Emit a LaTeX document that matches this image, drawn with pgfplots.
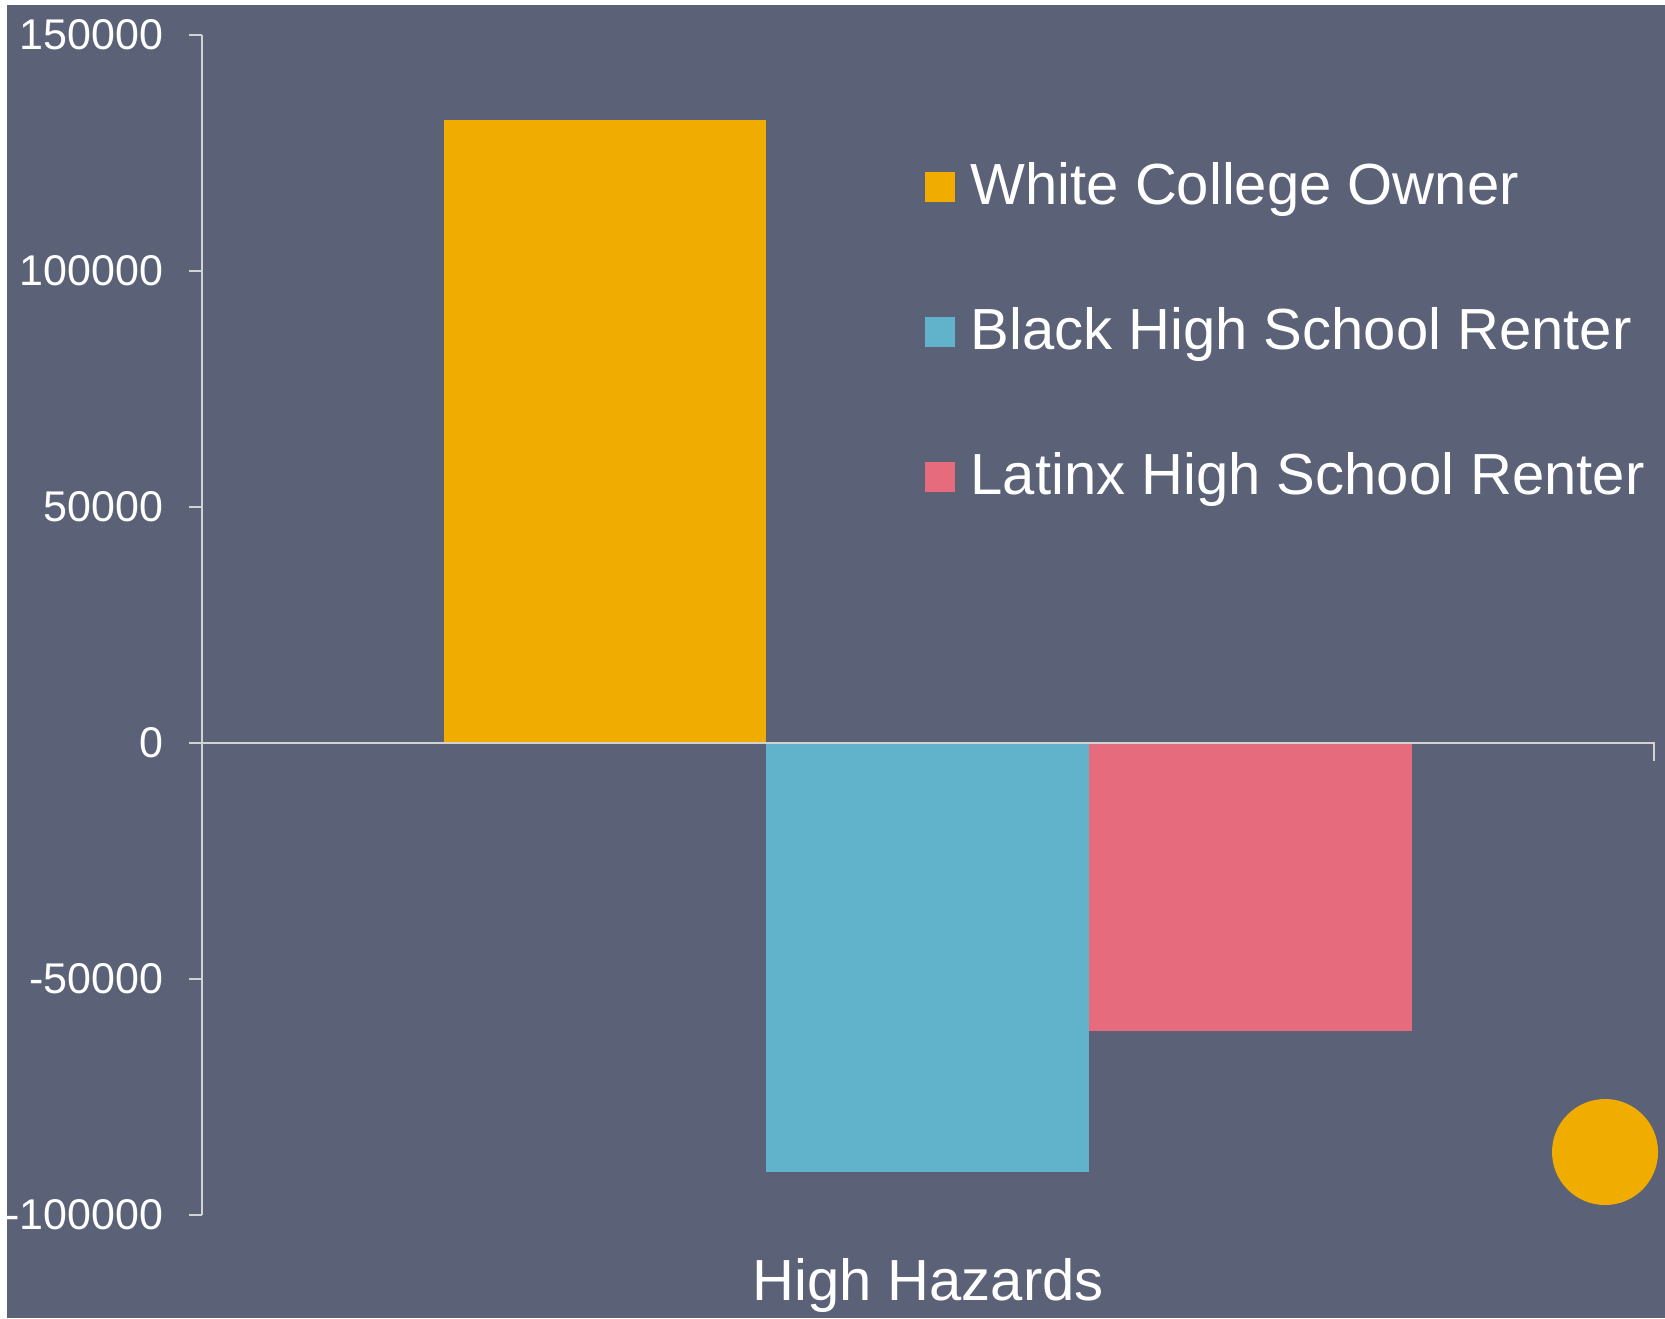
\documentclass[border=0pt]{standalone}
\usepackage{pgfplots}
\pgfplotsset{compat=1.18}
\usepackage{fontspec}
\setmainfont{Liberation Sans}

\definecolor{bgslate}{HTML}{5B6277}
\definecolor{axisgray}{HTML}{D2D2D2}
\definecolor{cyellow}{HTML}{F0AD00}
\definecolor{cblue}{HTML}{61B3CC}
\definecolor{cpink}{HTML}{E66C7D}

\begin{document}
\begin{tikzpicture}
% page and panel background (1 unit = 0.3pt, y grows downward)
\begin{scope}[x=0.3pt,y=-0.3pt]
  \fill[white] (0,0) rectangle (1665,1318);
  \fill[bgslate] (7,5) rectangle (1665,1318);
\end{scope}

\begin{axis}[
  at={(60.51pt,-364.41pt)}, anchor=south west,
  scale only axis, width=435.69pt, height=354pt,
  xmin=-2.25, xmax=2.25,
  ymin=-100000, ymax=150000,
  axis x line=none,
  axis y line=left,
  y axis line style={-, draw=axisgray, line width=0.7pt},
  ytick={-100000,-50000,0,50000,100000,150000},
  yticklabels={-100000,-50000,0,50000,100000,150000},
  tick align=outside,
  major tick length=3.9pt,
  tick style={draw=axisgray, line width=0.7pt},
  yticklabel style={font=\fontsize{12.9}{14}\selectfont, text=white, inner sep=0pt, xshift=-7.4pt},
  clip=false,
]
\addplot[ybar, bar width=1, bar shift=0, fill=cyellow, draw=none] coordinates {(-1,132000)};
\addplot[ybar, bar width=1, bar shift=0, fill=cblue, draw=none] coordinates {(0,-91000)};
\addplot[ybar, bar width=1, bar shift=0, fill=cpink, draw=none] coordinates {(1,-61000)};
% baseline at zero with the end tick
\draw[axisgray, line width=0.7pt] (axis cs:-2.25,0) -- (axis cs:2.25,0) -- ([yshift=-5.4pt]axis cs:2.25,0);
\end{axis}

\begin{scope}[x=0.3pt,y=-0.3pt]
  % category label
  \node[anchor=base, inner sep=0pt, text=white, font=\fontsize{17.4}{20}\selectfont] at (928,1300) {High Hazards};
  % legend
  \fill[cyellow] (924.5,172.5) rectangle (954.5,202.5);
  \node[anchor=base west, inner sep=0pt, text=white, font=\fontsize{17.4}{20}\selectfont] at (970,205) {White College Owner};
  \fill[cblue] (924.5,317) rectangle (954.5,347);
  \node[anchor=base west, inner sep=0pt, text=white, font=\fontsize{17.4}{20}\selectfont] at (970,349.5) {Black High School Renter};
  \fill[cpink] (924.5,461.5) rectangle (954.5,491.5);
  \node[anchor=base west, inner sep=0pt, text=white, font=\fontsize{17.4}{20}\selectfont] at (970,494) {Latinx High School Renter};
  % round badge in the lower right corner
  \fill[cyellow] (1605,1152) circle (53);
\end{scope}

\pgfresetboundingbox
\useasboundingbox (0,0) rectangle (499.5pt,-395.4pt);
\end{tikzpicture}
\end{document}
